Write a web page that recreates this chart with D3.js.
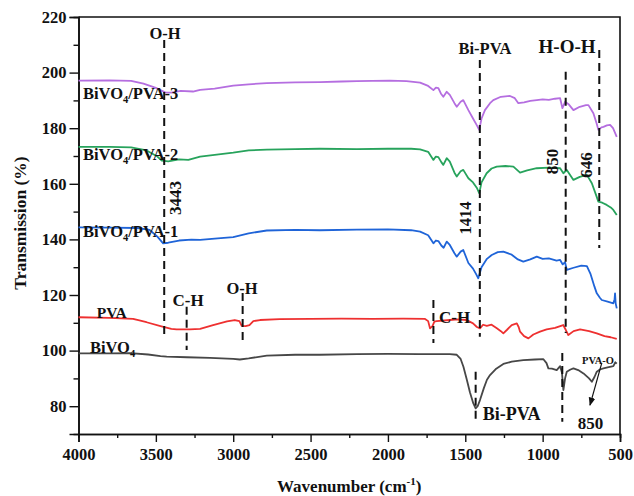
<!DOCTYPE html>
<html>
<head>
<meta charset="utf-8">
<script src="https://cdn.jsdelivr.net/npm/d3@7"></script>
<style>
  body { margin: 0; background: #fff; }
  text { font-family: "Liberation Serif", "Times New Roman", serif; font-weight: bold; fill: #111; }
</style>
</head>
<body>
<script>
// Data: [wavenumber, transmission]
const bivo4 = [[4000,99.0],[3800,99.0],[3667,99.1],[3550,98.6],[3470,98.0],[3430,97.8],[3300,97.6],[3150,97.4],[3000,97.0],[2957,96.8],[2900,97.2],[2783,98.2],[2600,98.5],[2440,98.5],[2200,98.7],[2000,98.8],[1800,98.7],[1600,98.7],[1555,98.5],[1530,97.0],[1512,94.2],[1490,89.5],[1470,85.0],[1448,81.0],[1433,79.2],[1420,80.0],[1405,82.2],[1380,86.5],[1360,89.5],[1340,91.2],[1300,93.5],[1254,95.2],[1200,96.0],[1125,96.6],[1050,96.8],[995,96.9],[975,95.5],[963,93.6],[940,93.5],[909,93.0],[887,94.4],[875,92.0],[866,85.8],[855,90.0],[844,92.4],[820,93.2],[801,93.6],[770,93.0],[736,91.8],[700,90.0],[682,88.8],[665,90.5],[650,92.4],[630,93.2],[607,93.6],[580,94.0],[543,94.4],[530,95.8],[521,95.3]];

const pva = [[4000,112.0],[3800,111.8],[3647,111.4],[3560,110.2],[3470,108.8],[3400,107.8],[3366,107.6],[3280,107.6],[3214,107.8],[3130,109.2],[3040,110.5],[2990,111.0],[2960,110.6],[2945,108.9],[2920,108.8],[2895,109.2],[2870,110.6],[2827,111.0],[2700,111.3],[2500,111.4],[2300,111.5],[2100,111.4],[1900,111.5],[1760,111.4],[1740,110.6],[1728,108.0],[1712,108.8],[1700,110.4],[1685,110.6],[1600,111.0],[1550,111.2],[1491,111.0],[1450,109.8],[1425,108.5],[1405,108.0],[1385,109.3],[1361,108.9],[1330,109.3],[1296,108.0],[1270,107.0],[1254,106.2],[1230,107.5],[1200,109.2],[1167,109.8],[1155,108.5],[1146,106.8],[1120,105.2],[1092,104.4],[1060,105.8],[1017,106.8],[974,107.6],[920,108.2],[867,109.2],[850,107.4],[834,105.6],[800,107.0],[758,107.6],[700,107.0],[650,106.2],[600,105.2],[560,104.8],[521,104.2]];

const pva1 = [[4000,144.3],[3800,144.2],[3620,144.1],[3540,143.4],[3490,141.0],[3453,138.6],[3420,138.8],[3350,139.6],[3270,139.9],[3214,139.8],[3100,140.4],[3000,140.8],[2900,142.2],[2783,143.2],[2600,143.4],[2440,143.3],[2200,143.5],[2000,143.6],[1850,143.3],[1792,142.8],[1740,141.5],[1706,138.6],[1690,139.6],[1674,139.4],[1655,137.8],[1640,137.0],[1620,139.2],[1600,138.0],[1570,135.0],[1555,133.8],[1530,135.6],[1513,136.2],[1480,131.5],[1450,129.5],[1430,127.5],[1416,126.0],[1395,130.0],[1360,133.0],[1329,134.4],[1290,135.4],[1254,135.6],[1200,134.5],[1160,132.8],[1125,132.0],[1080,132.8],[1038,133.8],[1000,133.0],[960,133.2],[910,132.4],[887,132.6],[870,131.0],[855,131.8],[844,129.0],[800,129.8],[750,130.6],[714,130.4],[690,127.5],[665,123.0],[650,120.6],[630,119.0],[618,118.2],[580,117.6],[543,117.0],[535,118.5],[532,120.6],[528,117.0],[521,115.2]];

const pva2 = [[4000,173.3],[3800,173.3],[3660,173.1],[3560,172.0],[3490,169.8],[3460,168.3],[3420,168.1],[3350,168.8],[3290,168.6],[3214,169.8],[3120,170.4],[3000,171.2],[2900,172.0],[2783,172.3],[2600,172.5],[2440,172.6],[2200,172.5],[2000,172.6],[1850,172.6],[1792,172.4],[1740,171.5],[1706,168.6],[1690,169.8],[1674,169.6],[1655,167.8],[1642,166.8],[1620,169.2],[1600,168.0],[1570,164.0],[1555,162.6],[1530,164.5],[1513,165.0],[1480,162.0],[1450,160.5],[1425,158.5],[1410,156.6],[1395,160.5],[1362,163.8],[1330,165.5],[1297,166.2],[1240,166.4],[1189,166.2],[1146,164.0],[1100,164.8],[1038,165.6],[960,165.8],[887,165.6],[866,163.8],[844,165.0],[801,161.4],[760,162.5],[714,163.2],[682,160.2],[655,156.0],[640,153.6],[615,153.2],[586,152.4],[560,151.5],[543,150.6],[521,148.8]];

const pva3 = [[4000,197.1],[3800,197.2],[3660,197.0],[3580,196.0],[3500,194.5],[3440,192.9],[3400,192.8],[3340,193.4],[3260,193.2],[3214,193.8],[3120,194.2],[3000,195.3],[2900,195.8],[2783,196.2],[2600,196.5],[2440,196.6],[2300,196.8],[2200,196.9],[2100,197.0],[1987,197.1],[1880,196.9],[1792,196.4],[1740,195.2],[1706,193.7],[1690,194.6],[1674,194.4],[1658,192.5],[1642,191.3],[1620,193.1],[1600,192.0],[1570,189.0],[1555,187.7],[1530,189.5],[1513,190.1],[1480,186.5],[1450,183.5],[1425,181.0],[1410,179.4],[1395,183.5],[1373,186.5],[1340,189.0],[1319,190.1],[1270,191.3],[1211,191.6],[1180,190.8],[1157,189.0],[1120,189.3],[1080,189.8],[1038,190.1],[1000,190.4],[960,190.2],[920,190.6],[887,190.8],[872,187.2],[855,189.5],[830,188.5],[801,186.5],[760,187.7],[720,188.3],[704,188.3],[672,185.4],[650,181.5],[640,179.4],[620,180.3],[607,180.5],[585,181.0],[564,181.2],[545,180.0],[521,176.9]];

const seriesNames = ["BiVO4", "PVA", "BiVO4/PVA-1", "BiVO4/PVA-2", "BiVO4/PVA-3"];
const seriesData = [bivo4, pva, pva1, pva2, pva3];
const seriesColors = ["#474747", "#ee3030", "#1f64d8", "#27a35c", "#b56ee0"];

const xTicks = [4000, 3500, 3000, 2500, 2000, 1500, 1000, 500];
const yTicks = [80, 100, 120, 140, 160, 180, 200, 220];

// dashed marker lines: [wavenumber, top value, bottom value]
const markers = [[3446,211.7,105.6],[3301,115.8,100.2],[2939,120.7,102.7],[1706,118.2,102.7],
                 [1406,204.5,105.0],[851,200.3,106.3],[634,208.1,136.9],[1433,92.4,74.4],[873,99.1,74.4]];

// Dimensions
const W = 634, H = 496;
const margin = { top: 17, right: 14, bottom: 62, left: 78.5 };
const width = W - margin.left - margin.right;
const height = H - margin.top - margin.bottom;

const svg = d3.select("body").append("svg")
    .attr("width", W)
    .attr("height", H);

const g = svg.append("g")
    .attr("transform", `translate(${margin.left},${margin.top})`);

const x = d3.scaleLinear().domain([4000, 500]).range([0, width]);
const y = d3.scaleLinear().domain([70, 220]).range([height, 0]);

// Axes
const xAxis = d3.axisBottom(x).tickValues(xTicks).tickSize(8).tickPadding(6).tickFormat(d3.format("d"));
const xMinor = d3.axisBottom(x).tickValues(d3.range(3750, 500, -500)).tickSize(4).tickFormat("");
const yAxis = d3.axisLeft(y).tickValues(yTicks).tickSize(9).tickPadding(3).tickFormat(d3.format("d"));
const yMinor = d3.axisLeft(y).tickValues(d3.range(90, 220, 20)).tickSize(5).tickFormat("");

g.append("g").attr("transform", `translate(0,${height})`).call(xAxis);
g.append("g").attr("transform", `translate(0,${height})`).call(xMinor);
g.append("g").call(yAxis);
g.append("g").call(yMinor);

g.selectAll(".domain").attr("stroke", "#111").attr("stroke-width", 1.6);
g.selectAll(".tick line").attr("stroke", "#111").attr("stroke-width", 1.4);
g.selectAll(".tick text")
    .style("font-family", '"Liberation Serif", "Times New Roman", serif')
    .style("font-weight", "bold")
    .style("font-size", "16.5px")
    .attr("fill", "#111");

// frame (top/right)
g.append("path")
    .attr("d", `M0,0H${width}V${height}`)
    .attr("fill", "none")
    .attr("stroke", "#111")
    .attr("stroke-width", 1.6);

// Lines
const line = d3.line().x(d => x(d[0])).y(d => y(d[1]));

g.selectAll(".series")
    .data(seriesData)
    .enter()
    .append("path")
    .attr("class", "series")
    .attr("d", line)
    .attr("fill", "none")
    .attr("stroke", (d, i) => seriesColors[i])
    .attr("stroke-width", 1.8)
    .attr("stroke-linejoin", "round");

// dashed markers
g.selectAll(".marker")
    .data(markers)
    .enter()
    .append("line")
    .attr("x1", d => x(d[0])).attr("x2", d => x(d[0]))
    .attr("y1", d => y(d[1])).attr("y2", d => y(d[2]))
    .attr("stroke", "#111")
    .attr("stroke-width", 2)
    .attr("stroke-dasharray", "8,5");

// series labels
function subLabel(sel, name) {
    const parts = name.split("4");
    sel.append("tspan").text(parts[0]);
    if (parts.length > 1) {
        sel.append("tspan").text("4").attr("font-size", "10.5px").attr("dy", 4);
        sel.append("tspan").text(parts[1]).attr("dy", -4);
    }
}
const seriesLabelPos = [[3926,101.2],[3882,113.6],[3971,143],[3971,170.7],[3971,192.6]];
seriesNames.forEach((name, i) => {
    const t = g.append("text")
        .attr("x", x(seriesLabelPos[i][0]))
        .attr("y", y(seriesLabelPos[i][1]))
        .attr("dy", "0.35em")
        .style("font-size", i === 1 ? "15.5px" : "16.5px");
    subLabel(t, name);
});

// annotations: text, wavenumber, value, size, anchor, rotate
const notes = [
    ["O-H", 3441, 214.2, 16.5, "middle", 0],
    ["3443", 3376, 154.9, 17, "middle", -90],
    ["C-H", 3292, 118.2, 17, "middle", 0],
    ["O-H", 2943, 122.6, 16.5, "middle", 0],
    ["C-H", 1670, 112.2, 17, "start", 0],
    ["Bi-PVA", 1373, 208.8, 16.5, "middle", 0],
    ["1414", 1501, 147.7, 16.5, "middle", -90],
    ["H-O-H", 842, 209.3, 19, "middle", 0],
    ["850", 941, 168, 17, "middle", -90],
    ["646", 719, 166.8, 17, "middle", -90],
    ["Bi-PVA", 1387, 77.4, 18, "start", 0],
    ["PVA-O", 642, 96.6, 10.5, "middle", 0],
    ["850", 690, 74.1, 17, "middle", 0]
];
notes.forEach(n => {
    const px = x(n[1]), py = y(n[2]);
    g.append("text")
        .attr("transform", `translate(${px},${py}) rotate(${n[5]})`)
        .attr("dy", "0.35em")
        .attr("text-anchor", n[4])
        .style("font-size", n[3] + "px")
        .text(n[0]);
});

// arrow from PVA-O to 850
const arrowFrom = [618, 95.5], arrowTo = [694, 80.4];
svg.append("defs").append("marker")
    .attr("id", "ah")
    .attr("viewBox", "0 0 10 10")
    .attr("refX", 9).attr("refY", 5)
    .attr("markerWidth", 7).attr("markerHeight", 7)
    .attr("orient", "auto")
    .append("path").attr("d", "M0,1L10,5L0,9Z").attr("fill", "#111");
g.append("line")
    .attr("x1", x(arrowFrom[0])).attr("y1", y(arrowFrom[1]))
    .attr("x2", x(arrowTo[0])).attr("y2", y(arrowTo[1]))
    .attr("stroke", "#111").attr("stroke-width", 1.2)
    .attr("marker-end", "url(#ah)");

// axis titles
svg.append("text")
    .attr("transform", "translate(20,223) rotate(-90)")
    .attr("text-anchor", "middle")
    .attr("dy", "0.35em")
    .style("font-size", "17.5px")
    .text("Transmission (%)");

const xt = svg.append("text")
    .attr("x", margin.left + width / 2)
    .attr("y", 492)
    .attr("text-anchor", "middle")
    .style("font-size", "17px");
xt.append("tspan").text("Wavenumber (cm");
xt.append("tspan").text("-1").attr("font-size", "11px").attr("dy", -7);
xt.append("tspan").text(")").attr("dy", 7);
</script>
</body>
</html>
